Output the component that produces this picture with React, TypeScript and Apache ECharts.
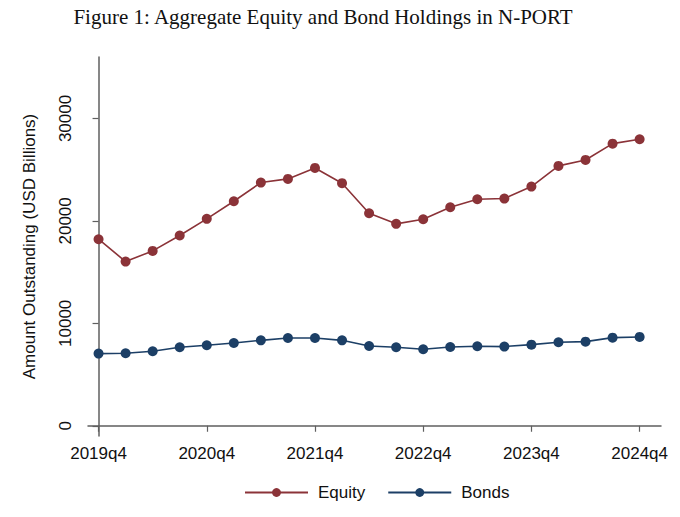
import React, { useEffect, useRef } from "react";
import * as echarts from "echarts";

const quarters = [
  "2019q4", "2020q1", "2020q2", "2020q3", "2020q4", "2021q1", "2021q2",
  "2021q3", "2021q4", "2022q1", "2022q2", "2022q3", "2022q4", "2023q1",
  "2023q2", "2023q3", "2023q4", "2024q1", "2024q2", "2024q3", "2024q4",
];
const equity = [
  18210, 16030, 17070, 18570, 20200, 21920, 23740, 24100, 25170, 23680,
  20750, 19710, 20160, 21330, 22110, 22180, 23350, 25370, 25950, 27540, 27970,
];
const bonds = [
  7045, 7080, 7270, 7660, 7860, 8080, 8340, 8570, 8570, 8340,
  7790, 7660, 7470, 7690, 7760, 7730, 7920, 8150, 8210, 8600, 8670,
];
const xTicks = [0, 4, 8, 12, 16, 20];
const yTicks = [0, 10000, 20000, 30000];
const titleText = "Figure 1: Aggregate Equity and Bond Holdings in N-PORT";
const yName = "Amount Outstanding (USD Billions)";

const EQ = "#8b3338";
const BD = "#1c3f66";
const AX = "#5f5f5f";
const SANS = "'Liberation Sans', Arial, Helvetica, sans-serif";

export default function App() {
  const ref = useRef<HTMLDivElement>(null);
  useEffect(() => {
    if (!ref.current) return;
    const chart = echarts.init(ref.current, null, { renderer: "svg" });
    chart.setOption({
      animation: false,
      backgroundColor: "#ffffff",
      graphic: [
        {
          type: "text",
          x: 323,
          y: 17,
          style: {
            text: titleText,
            textAlign: "center",
            textVerticalAlign: "middle",
            font: "21px 'Liberation Serif', 'Times New Roman', serif",
            fill: "#111111",
          },
        },
      ],
      grid: { left: 88, right: 19, top: 57, bottom: 81 },
      legend: {
        left: 239,
        top: 479,
        itemWidth: 63,
        itemHeight: 11,
        itemGap: 22,
        textStyle: {
          fontFamily: SANS,
          fontSize: 17,
          color: "#111111",
          padding: [0, 0, 0, 5],
        },
        data: ["Equity", "Bonds"],
      },
      xAxis: {
        type: "value",
        min: -0.39,
        max: 20.79,
        splitLine: { show: false },
        axisLine: { show: true, lineStyle: { color: AX, width: 1.5 } },
        axisTick: {
          show: true,
          customValues: xTicks,
          length: 6,
          lineStyle: { color: AX, width: 1.2 },
        },
        axisLabel: {
          customValues: xTicks,
          formatter: (v: number) => quarters[Math.round(v)] ?? "",
          margin: 9,
          fontFamily: SANS,
          fontSize: 17,
          color: "#111111",
        },
      },
      yAxis: {
        type: "value",
        min: -1000,
        max: 36000,
        name: yName,
        nameLocation: "middle",
        nameGap: 50,
        nameRotate: 90,
        nameTextStyle: { fontFamily: SANS, fontSize: 17, color: "#111111" },
        splitLine: { show: false },
        axisLine: { show: true, lineStyle: { color: AX, width: 1.5 } },
        axisTick: {
          show: true,
          customValues: yTicks,
          length: 6,
          lineStyle: { color: AX, width: 1.2 },
        },
        axisLabel: {
          customValues: yTicks,
          formatter: (v: number) => String(v),
          rotate: 90,
          margin: 14,
          fontFamily: SANS,
          fontSize: 17,
          color: "#111111",
        },
      },
      series: [
        {
          name: "Equity",
          type: "line",
          data: quarters.map((_, i) => [i, equity[i]]),
          symbol: "circle",
          symbolSize: 10,
          lineStyle: { color: EQ, width: 1.6 },
          itemStyle: { color: EQ },
        },
        {
          name: "Bonds",
          type: "line",
          data: quarters.map((_, i) => [i, bonds[i]]),
          symbol: "circle",
          symbolSize: 10,
          lineStyle: { color: BD, width: 1.6 },
          itemStyle: { color: BD },
        },
      ],
    });
    return () => chart.dispose();
  }, []);
  return (
    <div
      ref={ref}
      style={{ width: 680, height: 517, position: "absolute", left: 0, top: 0 }}
    />
  );
}
